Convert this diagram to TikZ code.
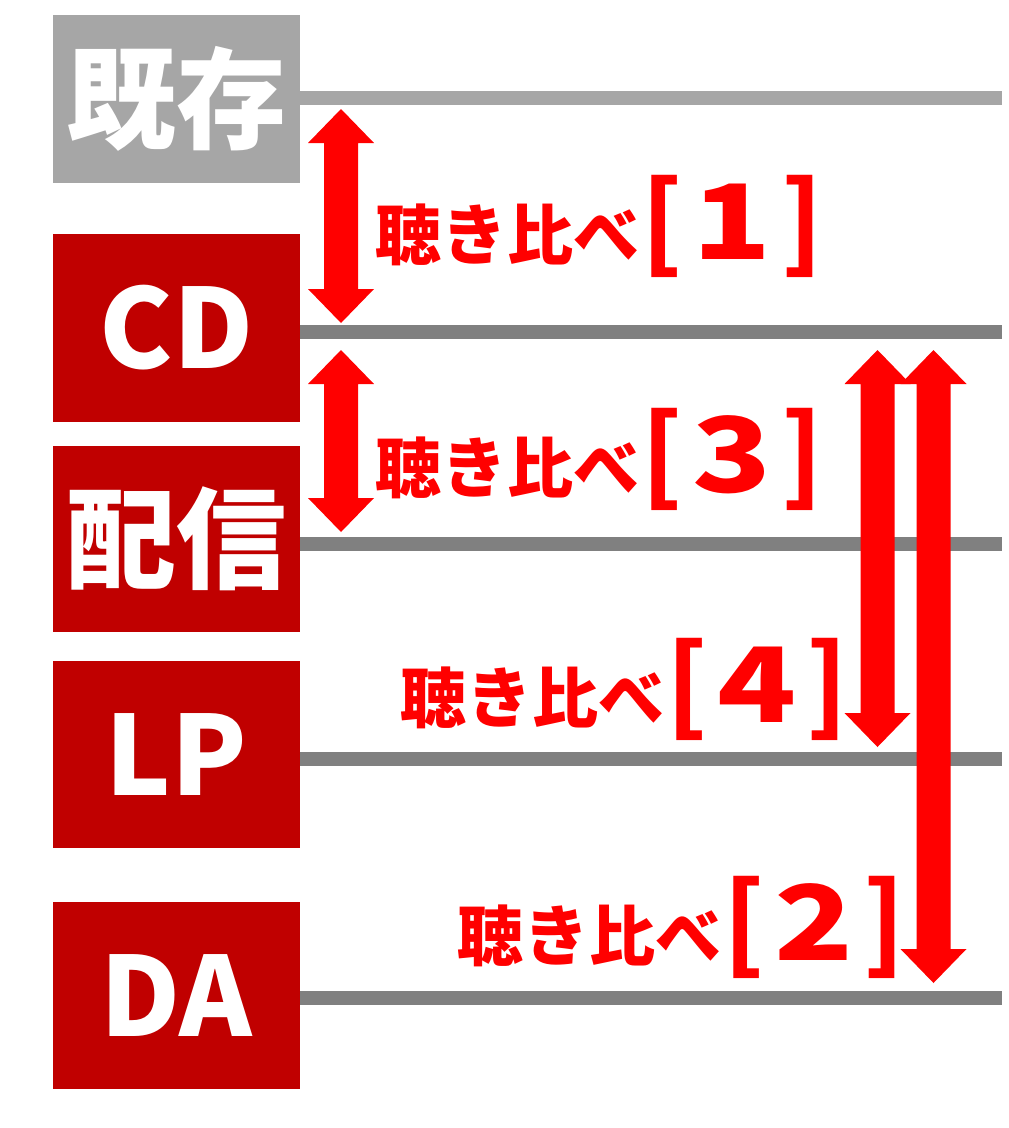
\documentclass[tikz,border=0pt]{standalone}
\usepackage{fontspec}
\usepackage{xcolor}
\usepackage{graphicx}
\usepackage{tikz}
\newfontfamily\jpfont{Noto Sans CJK JP}

\definecolor{boxred}{HTML}{C00000}
\definecolor{boxgray}{HTML}{A6A6A6}
\definecolor{rulegray}{HTML}{808080}
\definecolor{arrowred}{HTML}{FF0000}

\tikzset{
  medium/.style={rectangle, fill=boxred, text=white, minimum width=247pt, inner sep=0pt,
    font=\jpfont\bfseries\fontsize{110}{110}\selectfont},
  level/.style={line width=14pt},
  hikaku/.style={anchor=base west, inner sep=0pt, text=arrowred,
    font=\jpfont\bfseries\fontsize{66}{66}\selectfont},
}

\newcommand{\bangou}[1]{{\fontsize{104}{104}\selectfont\kern2pt[\kern10pt\scalebox{1.25}[1]{#1}\kern10pt]}}
% double block arrow: x, top tip, bottom tip
\newcommand{\ryouya}[3]{%
  \fill[arrowred] (#1,#2) -- ++(33,34) -- ++(-16,0) -- (#1+17,#3-34) -- ++(16,0)
    -- (#1,#3) -- ++(-33,-34) -- ++(16,0) -- (#1-17,#2+34) -- ++(-16,0) -- cycle;}

\begin{document}
\begin{tikzpicture}[x=1pt,y=-1pt]
\useasboundingbox (0,0) rectangle (1009,1128);

% level lines
\foreach \y/\c in {98/boxgray, 332/rulegray, 544/rulegray, 759/rulegray, 998/rulegray}
  \draw[level, \c] (300,\y) -- (1002,\y);

% media
\node[medium, fill=boxgray, minimum height=168pt] (kizon) at (176.5,99) {既存};
\node[medium, minimum height=188pt] (cd) at (176.5,328) {CD};
\node[medium, minimum height=186pt] (haishin) at (176.5,539) {配信};
\node[medium, minimum height=187pt] (lp) at (176.5,754.5) {LP};
\node[medium, minimum height=187pt] (da) at (176.5,995.5) {DA};

% arrows
\ryouya{341}{109}{323}
\ryouya{341}{350}{532}
\ryouya{877.5}{350}{747}
\ryouya{933.5}{350}{983}

% labels
\node[hikaku] (hikaku1) at (375,259) {聴き比べ\bangou{1}};
\node[hikaku] (hikaku3) at (375,492) {聴き比べ\bangou{3}};
\node[hikaku] (hikaku4) at (400,722) {聴き比べ\bangou{4}};
\node[hikaku] (hikaku2) at (457,960) {聴き比べ\bangou{2}};

\end{tikzpicture}
\end{document}
